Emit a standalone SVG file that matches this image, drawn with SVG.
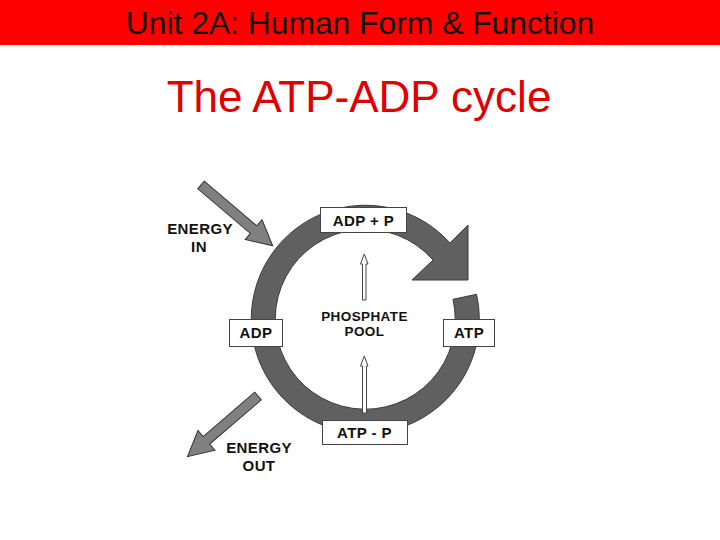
<svg xmlns="http://www.w3.org/2000/svg" width="720" height="540" viewBox="0 0 720 540">
<style>
.lbl{font-family:"Liberation Sans",Arial,sans-serif;font-weight:bold;font-size:15px;fill:#111;text-anchor:middle;letter-spacing:0.4px}
.pool{font-family:"Liberation Sans",Arial,sans-serif;font-weight:bold;font-size:13.5px;fill:#111;text-anchor:middle;letter-spacing:0.4px}
.box{fill:#fff;stroke:#444;stroke-width:1}
.earrow{fill:#808080;stroke:#333;stroke-width:1;stroke-linejoin:miter}
.hollow{fill:#fff;stroke:#444;stroke-width:1}
</style>
<rect x="0" y="0" width="720" height="45" fill="#ff0000"/>
<text x="360" y="34" font-family="'Liberation Sans',Arial,sans-serif" font-size="31.8" fill="#111" text-anchor="middle">Unit 2A: Human Form &amp; Function</text>
<text x="359" y="112" font-family="'Liberation Sans',Arial,sans-serif" font-size="44" fill="#e00000" text-anchor="middle">The ATP-ADP cycle</text>

<g id="connectors">
  <path id="cycle" d="M 476.5 294.3 A 114 114 0 1 1 450 243 L 468 225 L 468 280 L 412 280 L 433 260 A 90 90 0 1 0 453 299.3 Z" fill="#606060" stroke="#3a3a3a" stroke-width="1"/>
  <polygon id="energy-in-arrow" class="earrow" transform="translate(201,185) rotate(40.3)" points="0,-5 69,-5 69,-13 94,0 69,13 69,5 0,5"/>
  <polygon id="energy-out-arrow" class="earrow" transform="translate(258,396) rotate(139.3)" points="0,-5 68,-5 68,-13 93,0 68,13 68,5 0,5"/>
  <polygon id="pool-up-arrow" class="hollow" points="362.5,300 362.5,264 360.5,264 364.3,254 368,264 366,264 366,300"/>
  <polygon id="pool-in-arrow" class="hollow" points="362.5,413 362.5,366 360.5,366 364.3,356 368,366 366.5,366 366.5,413"/>
</g>

<g id="adp-p">
  <rect class="box" x="320.5" y="207.5" width="86" height="25"/>
  <text class="lbl" x="363.5" y="226">ADP + P</text>
</g>
<g id="adp">
  <rect class="box" x="229.5" y="319.5" width="53" height="27"/>
  <text class="lbl" x="256" y="338">ADP</text>
</g>
<g id="atp">
  <rect class="box" x="443.5" y="319.5" width="51" height="27"/>
  <text class="lbl" x="469" y="338">ATP</text>
</g>
<g id="atp-p">
  <rect class="box" x="322.5" y="420.5" width="85" height="24"/>
  <text class="lbl" x="364.5" y="438">ATP - P</text>
</g>
<g id="phosphate-pool">
  <text class="pool" x="364.5" y="321">PHOSPHATE</text>
  <text class="pool" x="364.5" y="336">POOL</text>
</g>
<g id="energy-in">
  <text class="lbl" x="200" y="234">ENERGY</text>
  <text class="lbl" x="199" y="252">IN</text>
</g>
<g id="energy-out">
  <text class="lbl" x="259" y="453">ENERGY</text>
  <text class="lbl" x="259" y="471">OUT</text>
</g>
</svg>
